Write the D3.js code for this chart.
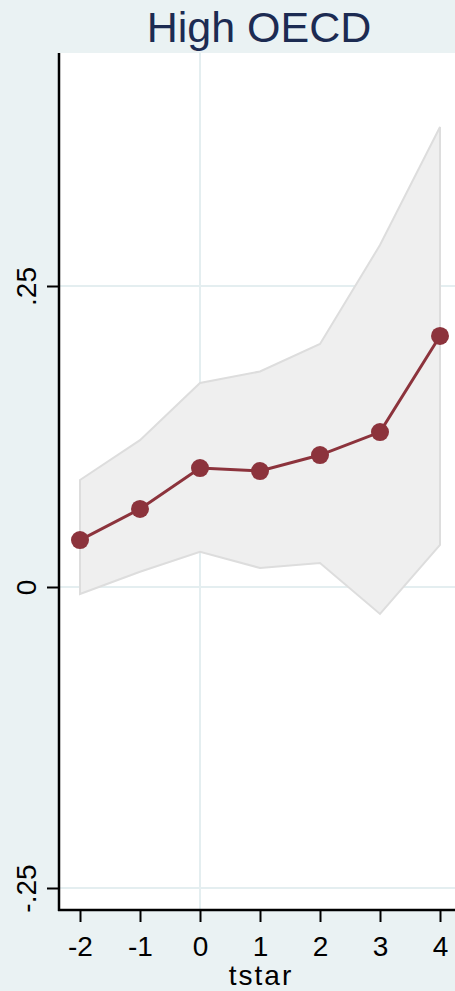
<!DOCTYPE html>
<html><head><meta charset="utf-8">
<script src="https://cdn.jsdelivr.net/npm/d3@7"></script>
<style>html,body{margin:0;padding:0;background:#EAF2F3;}svg{display:block;}</style>
</head><body>
<svg id="c" width="455" height="991"></svg>
<script>
const tstar = [-2, -1, 0, 1, 2, 3, 4];
const coef  = [0.039, 0.0648, 0.0988, 0.0963, 0.1096, 0.1287, 0.2085];
const upper = [0.0889, 0.122, 0.1694, 0.179, 0.2018, 0.284, 0.382];
const lower = [-0.0058, 0.0127, 0.0293, 0.0158, 0.020, -0.0224, 0.0349];
const yTicks = [-0.25, 0, 0.25];
const yTickLabels = ["-.25", "0", ".25"];
const xTicks = [-2, -1, 0, 1, 2, 3, 4];
const title = "High OECD";
const xTitle = "tstar";

const svg = d3.select("#c");
const W = 455, H = 991;
const L = 59, T = 53, R = 455, B = 910;
const x = d3.scaleLinear().domain([-2, 4]).range([80, 440]);
const y = d3.scaleLinear().domain([0, 0.25]).range([587, 286]);
const font = "'Liberation Sans', Arial, sans-serif";

svg.append("rect").attr("width", W).attr("height", H).attr("fill", "#EAF2F3");
svg.append("rect").attr("x", L).attr("y", T).attr("width", R - L).attr("height", B - T).attr("fill", "#fff");

// grid
svg.append("g").selectAll("line").data(yTicks).join("line")
  .attr("x1", L).attr("x2", R).attr("y1", d => y(d)).attr("y2", d => y(d))
  .attr("stroke", "#E4EEF0").attr("stroke-width", 2);
svg.append("line").attr("x1", x(0)).attr("x2", x(0)).attr("y1", T).attr("y2", B)
  .attr("stroke", "#E4EEF0").attr("stroke-width", 2);

const data = tstar.map((t, i) => ({t, c: coef[i], u: upper[i], l: lower[i]}));

// band
const area = d3.area().x(d => x(d.t)).y0(d => y(d.l)).y1(d => y(d.u));
svg.append("path").datum(data).attr("d", area)
  .attr("fill", "#EFEFEF").attr("stroke", "#DDDDDD").attr("stroke-width", 2);

// line
const line = d3.line().x(d => x(d.t)).y(d => y(d.c));
svg.append("path").datum(data).attr("d", line)
  .attr("fill", "none").attr("stroke", "#8C333C").attr("stroke-width", 3);
svg.append("g").selectAll("ellipse").data(data).join("ellipse")
  .attr("cx", d => x(d.t)).attr("cy", d => y(d.c)).attr("rx", 9).attr("ry", 9)
  .attr("fill", "#8C333C");

// axes
const yAxis = d3.axisLeft(y).tickValues(yTicks).tickSize(12).tickFormat((d, i) => yTickLabels[i]);
const gy = svg.append("g").attr("transform", `translate(${L},0)`).call(yAxis);
gy.select(".domain").remove();
gy.selectAll(".tick line").attr("stroke", "#000").attr("stroke-width", 2);
gy.selectAll(".tick text").attr("font-family", font).attr("font-size", 28).attr("fill", "#000")
  .attr("x", 0).attr("y", 0).attr("dy", 0).attr("text-anchor", "middle")
  .attr("transform", `translate(${36 - L},0) rotate(-90)`);
svg.append("line").attr("x1", L).attr("x2", L).attr("y1", T).attr("y2", B + 1)
  .attr("stroke", "#000").attr("stroke-width", 2.5);

const xAxis = d3.axisBottom(x).tickValues(xTicks).tickSize(12).tickFormat(d3.format("d"));
const gx = svg.append("g").attr("transform", `translate(0,${B})`).call(xAxis);
gx.select(".domain").remove();
gx.selectAll(".tick line").attr("stroke", "#000").attr("stroke-width", 2);
gx.selectAll(".tick text").attr("font-family", font).attr("font-size", 28).attr("fill", "#000")
  .attr("y", 46).attr("dy", 0).text(d => d < 0 ? "-" + Math.abs(d) : d);
svg.append("line").attr("x1", L - 1).attr("x2", R).attr("y1", B).attr("y2", B)
  .attr("stroke", "#000").attr("stroke-width", 2.5);

svg.append("text").attr("x", 261).attr("y", 985).attr("text-anchor", "middle")
  .attr("font-family", font).attr("font-size", 28).attr("letter-spacing", 2).attr("fill", "#000").text(xTitle);
svg.append("text").attr("x", 259).attr("y", 42).attr("text-anchor", "middle")
  .attr("font-family", font).attr("font-size", 43).attr("fill", "#1C2B52").text(title);
</script>
</body></html>
